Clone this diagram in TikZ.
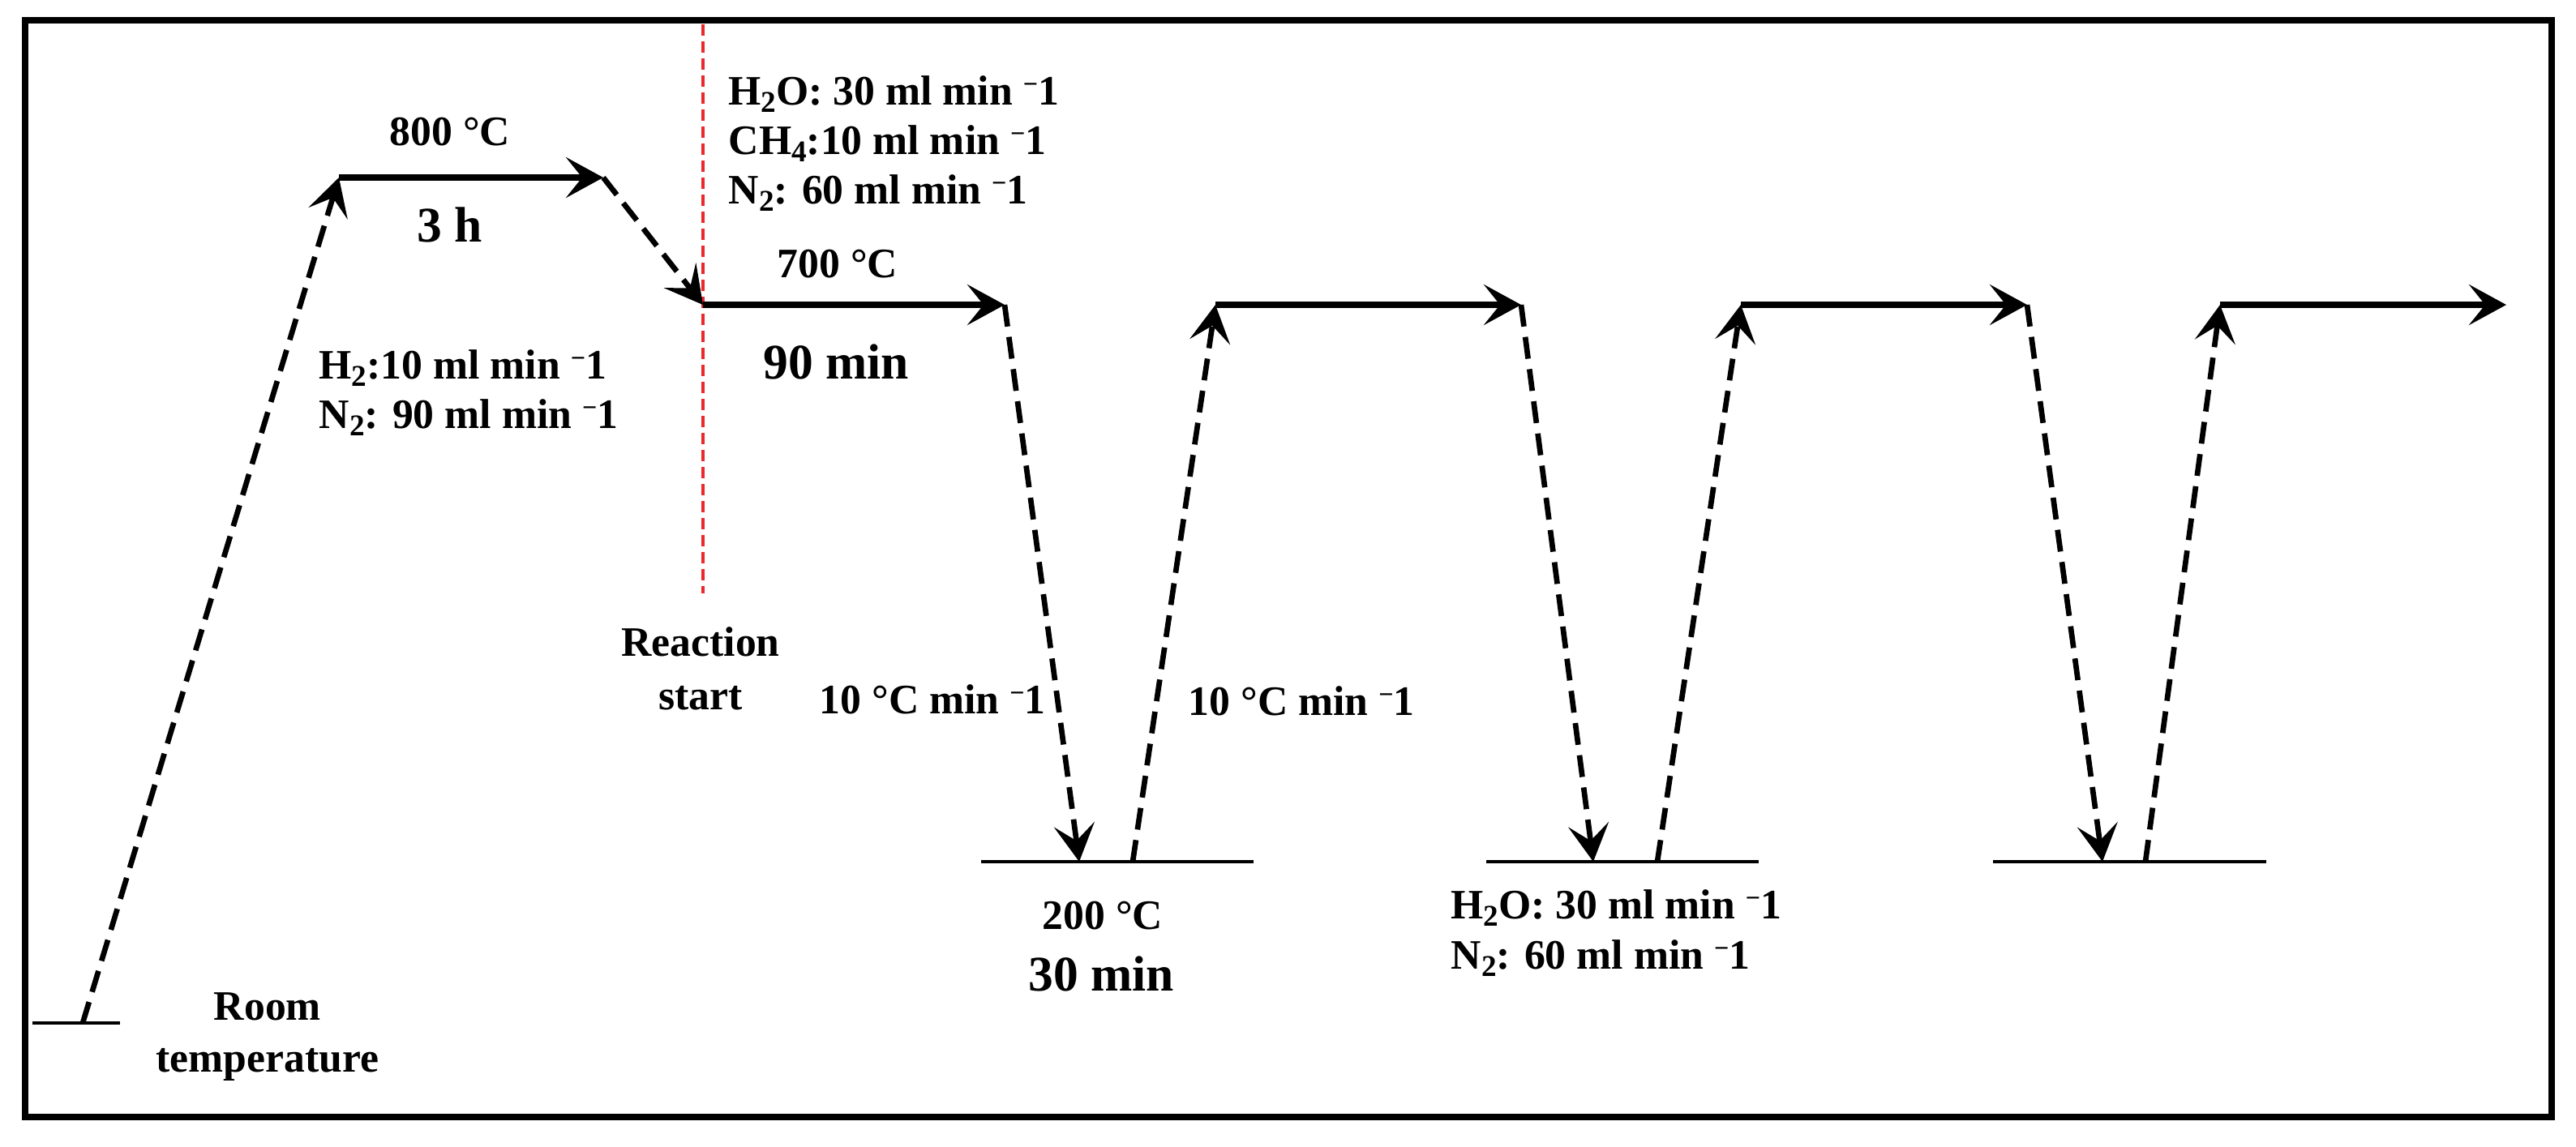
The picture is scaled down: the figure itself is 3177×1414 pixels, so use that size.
\documentclass[tikz,border=0pt]{standalone}
\usepackage{fontspec}
\setmainfont{Liberation Serif}
\usetikzlibrary{arrows.meta}
\newcommand{\supm}{\raisebox{0.62ex}{\scalebox{0.62}{−}}}
\newcommand{\lowsub}[1]{\raisebox{-0.42ex}{\scalebox{0.72}{#1}}}
\definecolor{markred}{RGB}{235,40,45}
\tikzset{
  lbl/.style={font=\fontsize{14.7}{17}\selectfont\bfseries, inner sep=0pt},
  big/.style={font=\fontsize{17.5}{20}\selectfont\bfseries, inner sep=0pt},
  tipstyle/.style={-{Stealth[length=0.46cm, width=0.5cm, inset=0.2cm]}},
  hold/.style={line width=2pt, tipstyle},
  ramp/.style={line width=1.9pt, dash pattern=on 0.27cm off 0.13cm, tipstyle},
  base/.style={line width=1.3pt},
  marker/.style={draw=markred, line width=0.9pt, dash pattern=on 0.14cm off 0.07cm},
  frame/.style={line width=2.2pt}
}
\begin{document}
\begin{tikzpicture}[x=0.01cm, y=-0.01cm]
\useasboundingbox (0,0) rectangle (3177,1414);
\draw[frame] (31,25) rectangle (3147,1378);

% key points
\coordinate (b0l) at (40,1262);  \coordinate (b0r) at (148,1262); \coordinate (r0) at (102,1262);
\coordinate (p0s) at (418,219);  \coordinate (p0e) at (744,219);
\coordinate (p1s) at (867,376);  \coordinate (p1e) at (1239,376);
\coordinate (b1l) at (1210,1063); \coordinate (b1r) at (1546,1063);
\coordinate (d1) at (1331,1063); \coordinate (u1) at (1397,1063);
\coordinate (p2s) at (1499,376); \coordinate (p2e) at (1876,376);
\coordinate (b2l) at (1833,1063); \coordinate (b2r) at (2169,1063);
\coordinate (d2) at (1965,1063); \coordinate (u2) at (2044,1063);
\coordinate (p3s) at (2147,376); \coordinate (p3e) at (2500,376);
\coordinate (b3l) at (2458,1063); \coordinate (b3r) at (2795,1063);
\coordinate (d3) at (2593,1063); \coordinate (u3) at (2646,1063);
\coordinate (p4s) at (2738,376); \coordinate (p4e) at (3091,376);
\coordinate (rt) at (867,30); \coordinate (rb) at (867,732);

% red reaction-start marker
\draw[marker] (rt) -- (rb);

% baselines
\draw[base] (b0l) -- (b0r);
\draw[base] (b1l) -- (b1r);
\draw[base] (b2l) -- (b2r);
\draw[base] (b3l) -- (b3r);

% ramps
\draw[ramp] (r0) -- (p0s);
\draw[ramp] (p0e) -- (p1s);
\draw[ramp] (p1e) -- (d1);
\draw[ramp] (u1) -- (p2s);
\draw[ramp] (p2e) -- (d2);
\draw[ramp] (u2) -- (p3s);
\draw[ramp] (p3e) -- (d3);
\draw[ramp] (u3) -- (p4s);

% holds
\draw[hold] (p0s) -- (p0e);
\draw[hold] (p1s) -- (p1e);
\draw[hold] (p2s) -- (p2e);
\draw[hold] (p3s) -- (p3e);
\draw[hold] (p4s) -- (p4e);

% labels
\node[lbl, anchor=base] (t800) at (555,179) {800 °C};
\node[big, anchor=base] (t3h) at (555,298) {3 h};
\node[lbl, anchor=base west] (th2) at (393,467) {H\lowsub{2}:10 ml min \supm1};
\node[lbl, anchor=base west] (tn2a) at (393,528) {N\lowsub{2}: 90 ml min \supm1};
\node[lbl, anchor=base west] (th2o) at (898,129) {H\lowsub{2}O: 30 ml min \supm1};
\node[lbl, anchor=base west] (tch4) at (898,190) {CH\lowsub{4}:10 ml min \supm1};
\node[lbl, anchor=base west] (tn2b) at (898,251) {N\lowsub{2}: 60 ml min \supm1};
\node[lbl, anchor=base] (t700) at (1033,342) {700 °C};
\node[big, anchor=base] (t90) at (1031,467) {90 min};
\node[lbl, anchor=base] (treac) at (864,809) {Reaction};
\node[lbl, anchor=base] (tstart) at (864,875) {start};
\node[lbl, anchor=base west] (trate1) at (1010,880) {10 °C min \supm1};
\node[lbl, anchor=base west] (trate2) at (1465,882) {10 °C min \supm1};
\node[lbl, anchor=base] (t200) at (1360,1146) {200 °C};
\node[big, anchor=base] (t30) at (1358,1222) {30 min};
\node[lbl, anchor=base west] (th2o2) at (1789,1133) {H\lowsub{2}O: 30 ml min \supm1};
\node[lbl, anchor=base west] (tn2c) at (1789,1195) {N\lowsub{2}: 60 ml min \supm1};
\node[lbl, anchor=base] (troom) at (330,1258) {Room};
\node[lbl, anchor=base] (ttemp) at (330,1322) {temperature};
\end{tikzpicture}
\end{document}
